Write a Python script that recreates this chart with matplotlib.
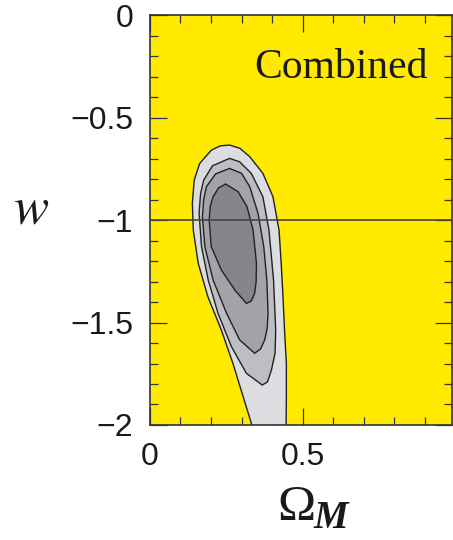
import matplotlib
matplotlib.use('Agg')
import matplotlib.pyplot as plt
from matplotlib.ticker import MultipleLocator

# confidence contours in (Omega_M, w), outer to inner
outer_x = [0.338, 0.305, 0.272, 0.234, 0.190, 0.158, 0.142, 0.139, 0.145, 0.163, 0.201, 0.230,
           0.261, 0.295, 0.327, 0.370, 0.403, 0.423, 0.430, 0.436, 0.441, 0.447, 0.447, 0.446]
outer_y = [-2.02, -1.86, -1.70, -1.537, -1.375, -1.21, -1.049, -0.917, -0.805, -0.724, -0.659, -0.638,
           -0.634, -0.650, -0.691, -0.772, -0.886, -1.049, -1.21, -1.375, -1.537, -1.70, -1.86, -2.02]

c2_x = [0.368, 0.316, 0.267, 0.223, 0.191, 0.169, 0.161, 0.166, 0.176, 0.205, 0.261, 0.294,
        0.332, 0.370, 0.390, 0.405, 0.412, 0.410, 0.398, 0.385]
c2_y = [-1.805, -1.748, -1.618, -1.455, -1.293, -1.13, -0.967, -0.870, -0.805, -0.735, -0.699, -0.716,
        -0.772, -0.886, -1.049, -1.293, -1.537, -1.650, -1.732, -1.790]

c3_x = [0.343, 0.294, 0.251, 0.207, 0.180, 0.172, 0.176, 0.185, 0.215, 0.261, 0.300, 0.327,
        0.354, 0.373, 0.383, 0.387, 0.384, 0.376, 0.362]
c3_y = [-1.650, -1.585, -1.455, -1.293, -1.13, -0.984, -0.900, -0.837, -0.775, -0.748, -0.772, -0.837,
        -0.967, -1.13, -1.293, -1.455, -1.530, -1.585, -1.630]

c4_x = [0.316, 0.278, 0.234, 0.201, 0.194, 0.198, 0.207, 0.225, 0.248, 0.289, 0.318, 0.338,
        0.349, 0.348, 0.343, 0.332]
c4_y = [-1.407, -1.341, -1.244, -1.13, -1.0, -0.930, -0.886, -0.843, -0.824, -0.862, -0.935, -1.049,
        -1.211, -1.300, -1.358, -1.395]

contours = [(outer_x, outer_y), (c2_x, c2_y), (c3_x, c3_y), (c4_x, c4_y)]
shades = ['#dcdde0', '#bdbec2', '#a2a3a7', '#85868a']

xticks = [0, 0.5]
xlabels = ['0', '0.5']
yticks = [0, -0.5, -1, -1.5, -2]
ylabels = ['0', '\u22120.5', '\u22121', '\u22121.5', '\u22122']

plt.rcParams['font.family'] = ['Liberation Sans', 'DejaVu Sans']
plt.rcParams['mathtext.fontset'] = 'stix'

fig = plt.figure(figsize=(4.53, 5.40), dpi=100)
ax = fig.add_axes([0.331, 0.213, 0.667, 0.759])
ax.set_facecolor('#ffea00')

for (cx, cy), col in zip(contours, shades):
    ax.fill(cx, cy, facecolor=col, edgecolor='#222222', linewidth=1.0, zorder=2)

ax.axhline(-1, color='#444444', linewidth=1.2, zorder=3)

ax.set_xlim(0, 0.99)
ax.set_ylim(-2, 0)
ax.set_xticks(xticks)
ax.set_xticklabels(xlabels)
ax.set_yticks(yticks)
ax.set_yticklabels(ylabels)
ax.xaxis.set_minor_locator(MultipleLocator(0.1))
ax.yaxis.set_minor_locator(MultipleLocator(0.1))
ax.tick_params(which='both', direction='in', top=True, right=True, width=0.9, color='#333333')
ax.tick_params(which='major', length=12, pad=12, labelsize=23, labelcolor='#1a1a1a')
ax.tick_params(which='minor', length=6)
for sp in ax.spines.values():
    sp.set_linewidth(1.2)
    sp.set_color('#333333')

ax.text(0.92, 0.846, 'Combined', transform=ax.transAxes, ha='right', va='baseline',
        fontsize=30, family='Liberation Serif', color='#1a1a1a')

# axis labels
fig.text(0.068, 0.587, '$w$', fontsize=38, ha='center', va='baseline', color='#1a1a1a')
fig.text(0.612, 0.037, '\u03a9', fontsize=37, family='Liberation Serif',
         ha='left', va='baseline', color='#1a1a1a')
fig.text(0.691, 0.022, 'M', fontsize=28, family='Liberation Serif', style='italic',
         weight='bold', ha='left', va='baseline', color='#1a1a1a')

fig.savefig('out.png', dpi=100)
